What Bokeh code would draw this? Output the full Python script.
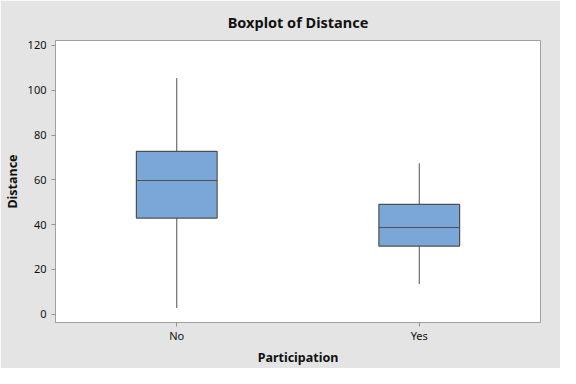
from bokeh.plotting import figure
from bokeh.models import FactorRange, Range1d, FixedTicker, ColumnDataSource
from bokeh.transform import dodge
from bokeh.embed import file_html
from bokeh.resources import INLINE

# ---- data ----
categories = ["No", "Yes"]
whisker_low = [2.8, 13.5]
q1 = [42.9, 30.4]
median = [59.7, 38.7]
q3 = [72.7, 49.0]
whisker_high = [105.4, 67.4]
y_ticks = [0, 20, 40, 60, 80, 100, 120]

FONT = "Noto Sans"
BOX_W = 0.333

p = figure(
    width=560, height=368,
    x_range=FactorRange(factors=categories),
    y_range=Range1d(-3.7, 122.2),
    output_backend="svg", toolbar_location=None,
    title="Boxplot of Distance",
    x_axis_label="Participation", y_axis_label="Distance",
    min_border_left=54, min_border_right=20, min_border_top=40, min_border_bottom=46,
)

p.background_fill_color = "white"
p.border_fill_color = "#e4e4e4"
p.outline_line_color = "#a0a0a0"
p.grid.visible = False

# title
p.title.align = "center"
p.title.text_font = FONT
p.title.text_font_size = "14.5px"
p.title.text_font_style = "bold"
p.title.text_color = "#111111"
p.title.standoff = 17

for ax in (p.xaxis[0], p.yaxis[0]):
    ax.axis_line_color = "#a0a0a0"
    ax.major_tick_line_color = "#909090"
    ax.minor_tick_line_color = None
    ax.major_tick_in = 0
    ax.major_tick_out = 4
    ax.major_label_text_font = FONT
    ax.major_label_text_font_size = "11px"
    ax.major_label_text_color = "#111111"
    ax.axis_label_text_font = FONT
    ax.axis_label_text_font_size = "12.5px"
    ax.axis_label_text_font_style = "bold"
    ax.axis_label_text_color = "#111111"
    ax.axis_label_standoff = 3

p.yaxis.ticker = FixedTicker(ticks=y_ticks)
p.yaxis.major_label_standoff = 5
p.yaxis.axis_label_standoff = 4
p.xaxis.major_label_standoff = 1

source = ColumnDataSource(dict(cat=categories, lo=whisker_low, q1=q1, med=median,
                               q3=q3, hi=whisker_high))

# whiskers
p.segment(x0="cat", y0="q3", x1="cat", y1="hi", source=source, line_color="#505050", line_width=1)
p.segment(x0="cat", y0="lo", x1="cat", y1="q1", source=source, line_color="#505050", line_width=1)
# boxes
p.vbar(x="cat", top="q3", bottom="q1", width=BOX_W, source=source,
       fill_color="#7ba7d8", line_color="#505050", line_width=1.2)
# medians
p.segment(x0=dodge("cat", -BOX_W / 2, range=p.x_range), y0="med",
          x1=dodge("cat", BOX_W / 2, range=p.x_range), y1="med",
          source=source, line_color="#505050", line_width=1)

open("out.html", "w").write(file_html(p, INLINE))
